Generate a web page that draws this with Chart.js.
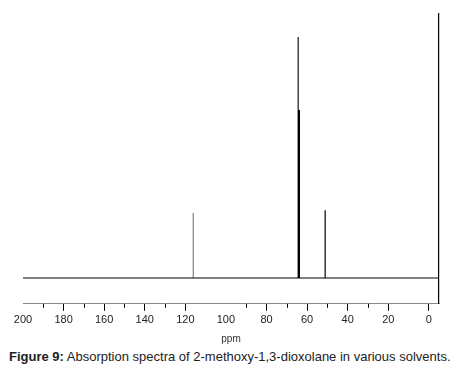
<!DOCTYPE html>
<html lang="en">
<head>
    <meta charset="UTF-8">
    <title>Figure 9</title>
    <style>
        body {
            margin: 0;
            padding: 0;
            background: #fff;
            font-family: "Liberation Sans", Arial, sans-serif;
        }
        .wrapper {
            position: relative;
            width: 454px;
            height: 345px;
        }
        .caption {
            position: absolute;
            left: 9px;
            top: 349px;
            font-size: 13px;
            color: #222;
            white-space: nowrap;
        }
    </style>
</head>
<body>
    <div class="wrapper">
        <canvas id="chart" width="454" height="345"></canvas>
    </div>
    <div class="caption"><b>Figure 9:</b> Absorption spectra of 2-methoxy-1,3-dioxolane in various solvents.</div>

    <script src="https://cdn.jsdelivr.net/npm/chart.js"></script>
    <script>
        // peaks (ppm, relative intensity)
        const peakPpm = [116.1, 64.4, 64.0, 51.1];
        const peakHeight = [27, 100, 69.7, 28.1];

        // axis labels and tick marks
        const tickLabels = [200, 180, 160, 140, 120, 100, 80, 60, 40, 20, 0];
        const majorTicks = [180, 160, 140, 120, 80, 60, 40, 20, 0];
        const minorTicks = [190, 170, 150, 130, 90, 70, 50, 30];

        const xMin = -5, xMax = 200;

        const peakColors = ['#808080', '#000', '#000', '#000'];
        const peakWidths = [1.2, 1.1, 2, 1.2];

        const datasets = [{
            data: [{x: xMax, y: 0}, {x: xMin, y: 0}],
            borderColor: '#000',
            borderWidth: 1.2
        }];
        peakPpm.forEach((p, i) => {
            datasets.push({
                data: [{x: p, y: 0}, {x: p, y: peakHeight[i]}],
                borderColor: peakColors[i],
                borderWidth: peakWidths[i]
            });
        });

        // short ticks between the labelled ones
        const minorTickPlugin = {
            id: 'minorTicks',
            afterDraw(chart) {
                const sx = chart.scales.x;
                const c = chart.ctx;
                const y0 = chart.chartArea.bottom;
                c.save();
                c.strokeStyle = '#000';
                c.lineWidth = 1;
                minorTicks.forEach(v => {
                    const px = Math.round(sx.getPixelForValue(v)) + 0.5;
                    c.beginPath();
                    c.moveTo(px, y0);
                    c.lineTo(px, y0 + 4);
                    c.stroke();
                });
                c.restore();
            }
        };

        new Chart(document.getElementById('chart'), {
            type: 'line',
            data: { datasets: datasets },
            options: {
                responsive: false,
                animation: false,
                events: [],
                layout: { padding: { top: 14, left: 23, right: 15, bottom: 0 } },
                elements: { point: { radius: 0 }, line: { tension: 0 } },
                plugins: { legend: { display: false }, tooltip: { enabled: false } },
                scales: {
                    x: {
                        type: 'linear',
                        reverse: true,
                        min: xMin,
                        max: xMax,
                        afterBuildTicks: (scale) => {
                            scale.ticks = tickLabels.map(v => ({ value: v }));
                        },
                        grid: {
                            drawOnChartArea: false,
                            drawTicks: true,
                            tickLength: 7,
                            tickColor: (ctx) => (ctx.tick && majorTicks.includes(ctx.tick.value)) ? '#000' : 'rgba(0,0,0,0)'
                        },
                        border: { display: true, color: '#888', width: 1 },
                        ticks: {
                            autoSkip: false,
                            maxRotation: 0,
                            color: '#222',
                            font: { family: 'Liberation Sans', size: 11 },
                            padding: 3
                        },
                        title: {
                            display: true,
                            text: 'ppm',
                            color: '#333',
                            font: { family: 'Liberation Sans', size: 10 },
                            padding: { top: 3, bottom: 0 }
                        }
                    },
                    y: {
                        position: 'right',
                        min: -10.7,
                        max: 109.5,
                        ticks: { display: false },
                        grid: { display: false, drawTicks: false },
                        border: { display: true, color: '#000', width: 1.2 }
                    }
                }
            },
            plugins: [minorTickPlugin]
        });
    </script>
</body>
</html>
